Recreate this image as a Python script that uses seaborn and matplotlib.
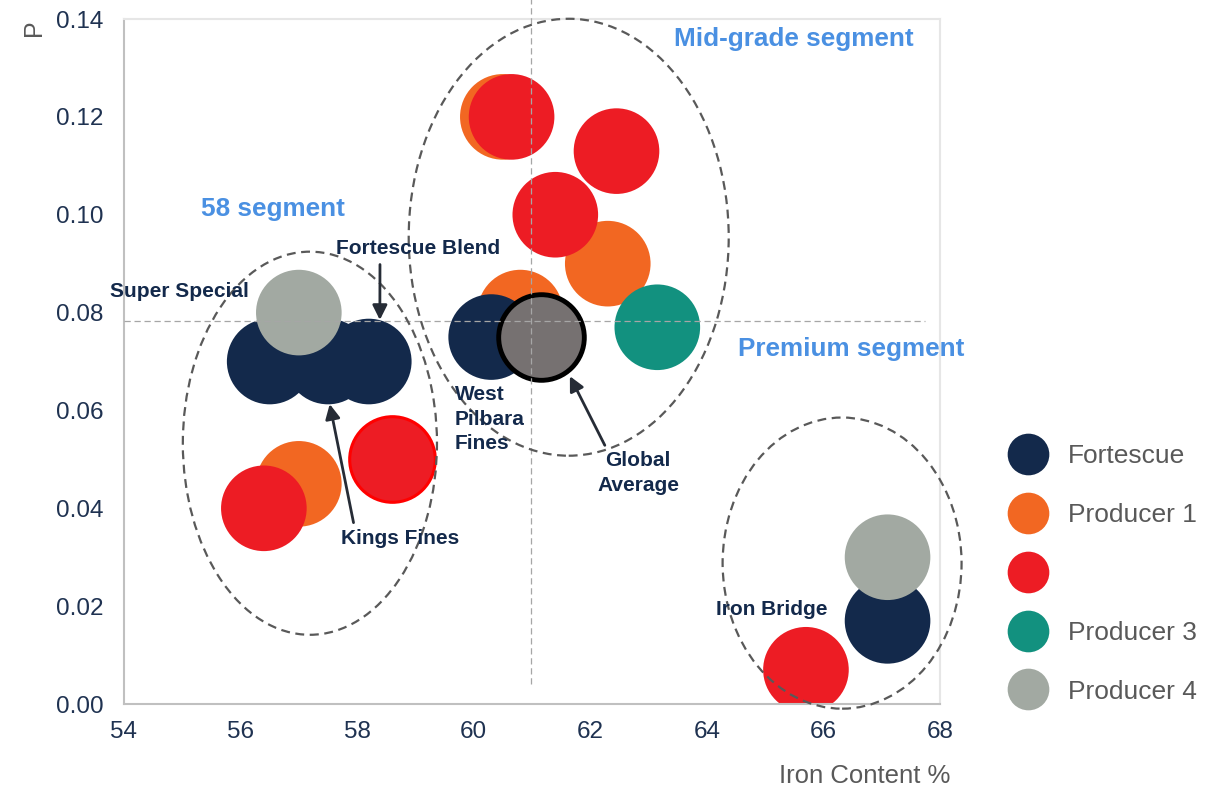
import matplotlib
matplotlib.use('Agg')
import matplotlib.pyplot as plt
from matplotlib.lines import Line2D
from matplotlib.patches import Ellipse
import pandas as pd
import seaborn as sns

# bubbles, in drawing order (later rows sit on top)
producer = ['Producer 1'] * 4 + ['Fortescue'] * 5 + ['Producer 4'] * 2 + ['Producer 2'] * 5 + ['Producer 3']
iron = [57.0, 60.5, 60.8, 62.3,
        56.5, 57.5, 58.2, 60.3, 67.1,
        57.0, 67.1,
        56.4, 60.65, 61.4, 62.45, 65.7,
        63.15]
phos = [0.045, 0.120, 0.080, 0.090,
        0.070, 0.070, 0.070, 0.075, 0.017,
        0.080, 0.030,
        0.040, 0.120, 0.100, 0.113, 0.007,
        0.077]

# Producer 2 bubble with a bright outline
outlined_iron = [58.6]
outlined_phos = [0.050]

global_iron = [61.15]
global_phos = [0.075]

# reference cross (global average grade)
ref_iron = 60.98
ref_phos = 0.0783

legend_names = ['Fortescue', 'Producer 1', 'Producer 2', 'Producer 3', 'Producer 4']
legend_labels = ['Fortescue', 'Producer 1', '', 'Producer 3', 'Producer 4']
palette = {'Fortescue': '#13294B', 'Producer 1': '#F26722', 'Producer 2': '#ED1C24',
           'Producer 3': '#12917F', 'Producer 4': '#A2A9A2'}

# segment ellipses: centre x, centre y, width, height
segments = [(57.19, 0.0533, 4.36, 0.0783),
            (61.63, 0.0954, 5.49, 0.0893),
            (66.32, 0.0288, 4.10, 0.0595)]
segment_names = [('58 segment', 56.56, 0.1012),
                 ('Mid-grade segment', 65.49, 0.1359),
                 ('Premium segment', 66.47, 0.0726)]

df = pd.DataFrame({'iron': iron, 'phos': phos, 'producer': producer})

sns.set_theme(style='white')
plt.rcParams['font.family'] = ['Liberation Sans', 'DejaVu Sans']

fig = plt.figure(figsize=(12.07, 7.89), dpi=100)
ax = fig.add_axes([0.1027, 0.1077, 0.6761, 0.8682])

BUBBLE = 3800
sns.scatterplot(data=df, x='iron', y='phos', hue='producer', palette=palette,
                s=BUBBLE, linewidth=0, legend=False, ax=ax, zorder=2)
sns.scatterplot(x=outlined_iron, y=outlined_phos, color=palette['Producer 2'],
                s=BUBBLE, edgecolor='#FF0000', linewidth=2.2, ax=ax, zorder=2)
sns.scatterplot(x=global_iron, y=global_phos, color='#767171',
                s=BUBBLE, edgecolor='black', linewidth=3.5, ax=ax, zorder=3)

ax.set_xlim(54, 68)
ax.set_ylim(0, 0.14)
ax.set_xticks(range(54, 69, 2))
ax.set_yticks([0, 0.02, 0.04, 0.06, 0.08, 0.10, 0.12, 0.14])
ax.yaxis.set_major_formatter(matplotlib.ticker.FormatStrFormatter('%.2f'))
ax.tick_params(axis='both', length=0, labelsize=17.5, colors='#1F3251')
ax.tick_params(axis='y', pad=15)
ax.tick_params(axis='x', pad=12)

for side in ['left', 'bottom']:
    ax.spines[side].set_color('#C0C0C0')
    ax.spines[side].set_linewidth(1.5)
for side in ['top', 'right']:
    ax.spines[side].set_color('#E6E6E6')
    ax.spines[side].set_linewidth(1.5)

ax.set_xlabel('Iron Content %', fontsize=18.5, color='#595959', ha='right')
ax.xaxis.set_label_coords(1.013, -0.088)
ax.set_ylabel('P', fontsize=18, color='#595959', loc='top')
ax.yaxis.set_label_coords(-0.095, 1.0)

# dashed reference cross
ax.plot([ref_iron, ref_iron], [0.004, 0.144], color='#A6A6A6', lw=0.9,
        ls=(0, (5, 3)), clip_on=False, zorder=4)
ax.plot([54, 67.74], [ref_phos, ref_phos], color='#A6A6A6', lw=0.9,
        ls=(0, (5, 3)), clip_on=False, zorder=4)

for cx, cy, w, h in segments:
    ax.add_patch(Ellipse((cx, cy), w, h, fill=False, edgecolor='#595959', lw=1.6,
                         ls=(0, (4, 2.5)), clip_on=False, zorder=5))
for name, tx, ty in segment_names:
    ax.text(tx, ty, name, fontsize=18.8, fontweight='bold', color='#4A90E2',
            ha='center', va='center', zorder=6)

label_kw = dict(fontsize=15, fontweight='bold', color='#13294B', zorder=6)
arrow_kw = dict(arrowstyle='-|>', color='#262C36', lw=2, mutation_scale=22,
                shrinkA=2, shrinkB=0)

ax.text(54.96, 0.0844, 'Super Special', ha='center', va='center', **label_kw)
ax.text(65.12, 0.0194, 'Iron Bridge', ha='center', va='center', **label_kw)
ax.text(59.68, 0.0582, 'West\nPilbara\nFines', ha='left', va='center',
        linespacing=1.38, **label_kw)
ax.annotate('Fortescue Blend', xy=(58.39, 0.0785), xytext=(59.04, 0.093),
            ha='center', va='center', arrowprops=dict(relpos=(0.27, 0), **arrow_kw),
            **label_kw)
ax.annotate('Kings Fines', xy=(57.53, 0.0613), xytext=(58.73, 0.0339),
            ha='center', va='center', arrowprops=dict(relpos=(0.12, 1), **arrow_kw),
            **label_kw)
ax.annotate('Global\nAverage', xy=(61.65, 0.0670), xytext=(62.82, 0.0472),
            ha='center', va='center', linespacing=1.4,
            arrowprops=dict(relpos=(0.13, 1), **arrow_kw), **label_kw)

handles = [Line2D([], [], marker='o', ls='', markersize=30, markeredgewidth=0,
                  color=palette[n]) for n in legend_names]
fig.legend(handles, legend_labels, loc='center left', bbox_to_anchor=(0.8343, 0.2725),
           frameon=False, fontsize=19, labelcolor='#595959', handlelength=1.6,
           handletextpad=0.72, labelspacing=1.32, borderpad=0, borderaxespad=0,
           numpoints=1)

fig.savefig('out.png', dpi=100)
